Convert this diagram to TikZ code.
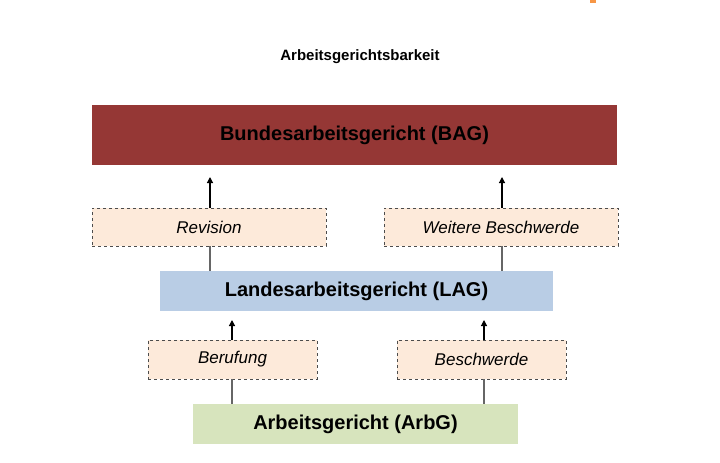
\documentclass[tikz,border=0pt]{standalone}
\usepackage{fontspec}
\setmainfont{Liberation Sans}
\usetikzlibrary{arrows.meta}
\definecolor{bagred}{HTML}{953735}
\definecolor{lagblue}{HTML}{B9CDE5}
\definecolor{arbgreen}{HTML}{D7E4BD}
\definecolor{peach}{HTML}{FDEADA}
\definecolor{orangemark}{HTML}{F79646}
\begin{document}
\begin{tikzpicture}[x=1pt,y=-1pt,
  court/.style={draw=none,inner sep=0pt,font=\fontsize{20}{24}\selectfont\bfseries},
  remedy/.style={draw=black!70,dashed,fill=peach,inner sep=0pt,font=\fontsize{17}{20}\selectfont\itshape},
  conn/.style={draw=black!60,line width=1.2pt},
  arr/.style={draw=black,line width=1.2pt,-{Triangle[length=6pt,width=6pt]}}]
\useasboundingbox (0,0) rectangle (720,463);
\fill[orangemark] (590,0) rectangle (596,3);
\node[font=\fontsize{15}{18}\selectfont\bfseries] (title) at (360,57) {Arbeitsgerichtsbarkeit};
\node[court,fill=bagred,minimum width=525pt,minimum height=60pt] (bag) at (354.5,135) {Bundesarbeitsgericht (BAG)};
\node[remedy,minimum width=234pt,minimum height=38pt] (rev) at (209,227) {Revision};
\node[remedy,minimum width=234pt,minimum height=38pt] (wb) at (501,227) {Weitere Beschwerde};
\node[court,fill=lagblue,minimum width=393pt,minimum height=40pt] (lag) at (356.5,291) {Landesarbeitsgericht (LAG)};
\node[remedy,minimum width=169pt,minimum height=39pt] (ber) at (232.5,359.5) {Berufung};
\node[remedy,minimum width=169pt,minimum height=39pt] (besch) at (481.5,359.5) {Beschwerde};
\node[court,fill=arbgreen,minimum width=325pt,minimum height=40pt] (arbg) at (355.5,424) {Arbeitsgericht (ArbG)};
\coordinate (t1) at (210,177);
\coordinate (t2) at (502,177);
\coordinate (t3) at (232,320);
\coordinate (t4) at (484,320);
\draw[conn] (lag.north -| t1) -- (rev.south -| t1);
\draw[arr] (rev.north -| t1) -- (t1);
\draw[conn] (lag.north -| t2) -- (wb.south -| t2);
\draw[arr] (wb.north -| t2) -- (t2);
\draw[conn] (arbg.north -| t3) -- (ber.south -| t3);
\draw[arr] (ber.north -| t3) -- (t3);
\draw[conn] (arbg.north -| t4) -- (besch.south -| t4);
\draw[arr] (besch.north -| t4) -- (t4);
\end{tikzpicture}
\end{document}
